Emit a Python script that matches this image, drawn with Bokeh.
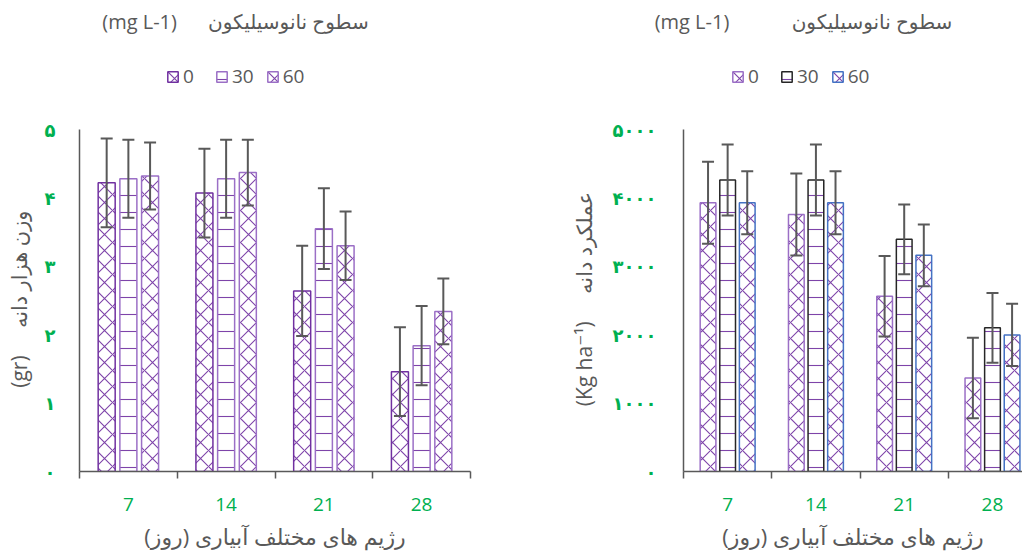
from bokeh.plotting import figure
from bokeh.models import (ColumnDataSource, Whisker, TeeHead, FixedTicker, Legend,
                          LegendItem, Range1d, Label)
from bokeh.layouts import row, column
from bokeh.embed import file_html
from bokeh.resources import INLINE

# ---------------- data ----------------
regimes = ["7", "14", "21", "28"]
levels = ["0", "30", "60"]

tgw_0 = [4.22, 4.07, 2.64, 1.46]
tgw_30 = [4.28, 4.28, 3.55, 1.84]
tgw_60 = [4.32, 4.37, 3.30, 2.34]
tgw_err_0 = [0.65, 0.65, 0.66, 0.65]
tgw_err_30 = [0.57, 0.57, 0.59, 0.58]
tgw_err_60 = [0.49, 0.48, 0.50, 0.48]

yield_0 = [3930, 3758, 2562, 1367]
yield_30 = [4261, 4261, 3394, 2100]
yield_60 = [3930, 3930, 3160, 1997]
yield_err_0 = [600, 600, 590, 590]
yield_err_30 = [520, 520, 510, 510]
yield_err_60 = [460, 460, 450, 455]

tgw_ticks = [0, 1, 2, 3, 4, 5]
tgw_tick_labels = ["۰", "۱", "۲", "۳", "۴", "۵"]
yield_ticks = [0, 1000, 2000, 3000, 4000, 5000]
yield_tick_labels = ["۰", "۱۰۰۰", "۲۰۰۰", "۳۰۰۰", "۴۰۰۰", "۵۰۰۰"]

NB = "\u00a0"
title_left = "(mg L-1)" + NB * 6 + "سطوح نانوسیلیکون"
title_right = "(mg L-1)" + NB * 12 + "سطوح نانوسیلیکون"
xlabel = "رژیم های مختلف آبیاری (روز)\u200f"
ylabel_left = "(gr)" + NB * 5 + "وزن هزار دانه" + NB * 14
ylabel_right = "(Kg ha\u207b\u00b9)" + NB * 5 + "عملکرد دانه" + NB * 14

FONT = "Open Sans, DejaVu Sans"
GRAY = "#595959"
GREEN = "#00B050"
PURPLE = "#7030A0"

HEADER_H = 50
FRAME_H = 421          # chart frame spans page y 52..473 ; axis top (max value) at y=131
AXIS_H = 342
TOTAL_W = 1022


def make_chart(vals, errs, ticks, tick_labels, ymax, border_left, frame_w, border_right,
               x_end, outlines, hatches, legend_x, ylabel,
               ylabel_standoff, ytick_standoff, bar_w):
    y_end = ymax * FRAME_H / AXIS_H
    p = figure(frame_width=frame_w, frame_height=FRAME_H, output_backend="svg",
               toolbar_location=None,
               x_range=Range1d(0, x_end), y_range=Range1d(0, y_end),
               min_border_left=border_left, min_border_top=0,
               min_border_bottom=72, min_border_right=border_right)
    p.outline_line_color = None
    p.xgrid.grid_line_color = None
    p.ygrid.grid_line_color = None
    p.background_fill_color = "white"
    p.border_fill_color = "white"

    step = 0.222
    items = []
    for j, lev in enumerate(levels):
        xs = [i + 0.5 + (j - 1) * step for i in range(len(regimes))]
        src = ColumnDataSource(dict(x=xs, top=vals[j],
                                    upper=[v + e for v, e in zip(vals[j], errs[j])],
                                    lower=[v - e for v, e in zip(vals[j], errs[j])]))
        pat, scale = hatches[j]
        r = p.vbar(x="x", top="top", width=bar_w, source=src, fill_color="white",
                   line_color=outlines[j], line_width=1.5,
                   hatch_pattern=pat, hatch_scale=scale, hatch_color=PURPLE,
                   hatch_weight=1.1, hatch_alpha=0.9)
        items.append(LegendItem(label=lev, renderers=[r]))
        w = Whisker(source=src, base="x", upper="upper", lower="lower",
                    line_color=GRAY, line_width=2,
                    upper_head=TeeHead(size=12, line_color=GRAY, line_width=2),
                    lower_head=TeeHead(size=12, line_color=GRAY, line_width=2))
        w.level = "annotation"
        p.add_layout(w)

    # x axis: ticks on category boundaries, labels at centres
    ax = p.xaxis[0]
    minor = [k for k in range(len(regimes) + 1) if k <= x_end]
    ax.ticker = FixedTicker(ticks=[i + 0.5 for i in range(len(regimes))], minor_ticks=minor)
    ax.major_label_overrides = {i + 0.5: lab for i, lab in enumerate(regimes)}
    ax.major_tick_line_color = None
    ax.major_tick_out = 0
    ax.major_tick_in = 0
    ax.minor_tick_line_color = GRAY
    ax.minor_tick_line_width = 1.5
    ax.minor_tick_out = 7
    ax.minor_tick_in = 0
    ax.axis_line_color = GRAY
    ax.axis_line_width = 1.5
    ax.major_label_text_color = GREEN
    ax.major_label_text_font = FONT
    ax.major_label_text_font_size = "19px"
    ax.major_label_standoff = 19
    ax.axis_label = xlabel
    ax.axis_label_text_font = FONT
    ax.axis_label_text_font_style = "normal"
    ax.axis_label_text_font_size = "22px"
    ax.axis_label_text_color = GRAY
    ax.axis_label_standoff = 7

    ay = p.yaxis[0]
    ay.ticker = FixedTicker(ticks=ticks)
    ay.bounds = (0, ymax)
    ay.major_label_overrides = {t: lab for t, lab in zip(ticks, tick_labels)}
    ay.major_tick_line_color = None
    ay.minor_tick_line_color = None
    ay.major_tick_out = 0
    ay.major_tick_in = 0
    ay.axis_line_color = GRAY
    ay.axis_line_width = 1.5
    ay.major_label_text_color = GREEN
    ay.major_label_text_font = FONT
    ay.major_label_text_font_style = "bold"
    ay.major_label_text_font_size = "18px"
    ay.major_label_standoff = ytick_standoff
    ay.axis_label = ylabel
    ay.axis_label_text_font = FONT
    ay.axis_label_text_font_style = "normal"
    ay.axis_label_text_font_size = "21px"
    ay.axis_label_text_color = GRAY
    ay.axis_label_standoff = ylabel_standoff

    legend = Legend(items=items, orientation="horizontal", location=(legend_x, 382),
                    glyph_width=13, glyph_height=13, label_standoff=4, spacing=12,
                    label_height=15, padding=0, margin=0, border_line_color=None,
                    background_fill_alpha=0, label_text_font=FONT,
                    label_text_font_size="19px", label_text_color=GRAY,
                    label_text_baseline="middle")
    p.add_layout(legend)
    return p


# header strip holding the two chart titles (spans the full width, so nothing is clipped)
header = figure(width=TOTAL_W, height=HEADER_H, output_backend="svg", toolbar_location=None,
                x_range=Range1d(0, TOTAL_W), y_range=Range1d(0, HEADER_H),
                min_border=0)
header.axis.visible = False
header.grid.visible = False
header.outline_line_color = None
for tx, txt in [(235, title_left), (803, title_right)]:
    header.add_layout(Label(x=tx, y=HEADER_H - 21, text=txt, text_align="center",
                            text_baseline="middle", text_font=FONT,
                            text_font_size="20px", text_color=GRAY))

p1 = make_chart([tgw_0, tgw_30, tgw_60], [tgw_err_0, tgw_err_30, tgw_err_60],
                tgw_ticks, tgw_tick_labels, 5, border_left=79, frame_w=391, border_right=96,
                x_end=4, outlines=[PURPLE, "#9B6FC6", "#9B6FC6"],
                hatches=[("x", 16), ("-", 17), ("x", 16)], legend_x=87,
                ylabel=ylabel_left, ylabel_standoff=9, ytick_standoff=24, bar_w=0.174)

p2 = make_chart([yield_0, yield_30, yield_60], [yield_err_0, yield_err_30, yield_err_60],
                yield_ticks, yield_tick_labels, 5000, border_left=117, frame_w=339,
                border_right=0, x_end=3.84, outlines=["#9B6FC6", "#262626", "#4472C4"],
                hatches=[("x", 16), ("-", 17), ("x", 16)], legend_x=48,
                ylabel=ylabel_right, ylabel_standoff=12, ytick_standoff=27, bar_w=0.178)

layout = column(header, row(p1, p2))
open("out.html", "w").write(file_html(layout, INLINE))
